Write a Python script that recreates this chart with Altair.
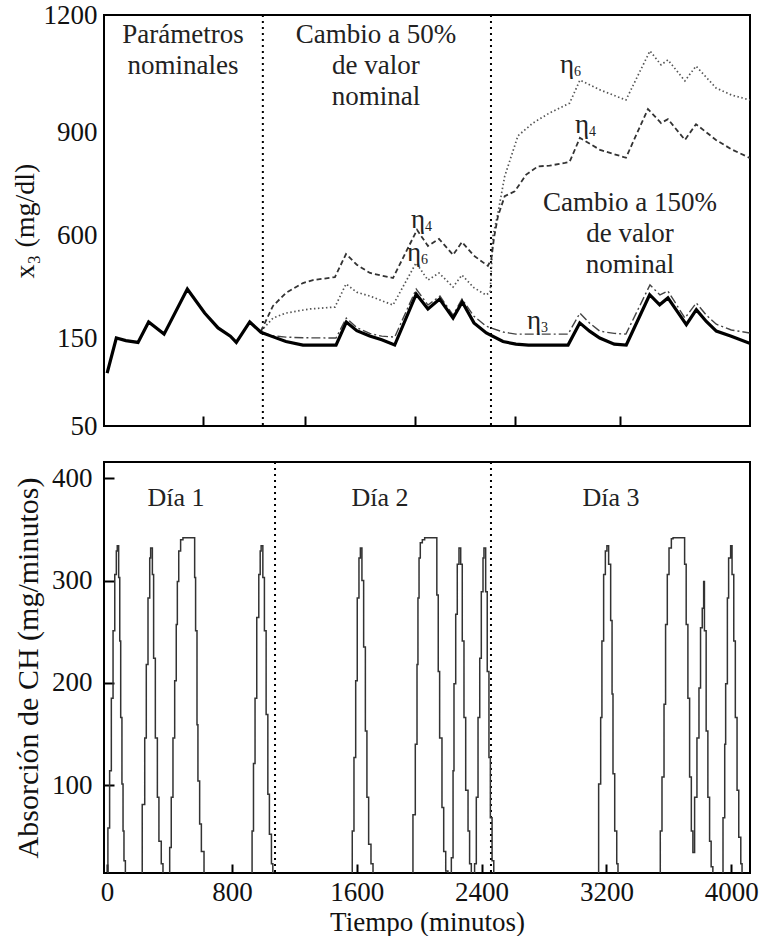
import altair as alt
import pandas as pd

SERIF = "Liberation Serif"

# ---------------- top panel: glucose x3 (mg/dl) ----------------
nom_t = [0, 59, 120, 198, 266, 365, 514, 625, 711, 790, 828, 914, 986, 1060, 1146, 1255, 1467, 1533, 1600, 1683,
         1760, 1843, 1981, 2056, 2131, 2217, 2276, 2351, 2430, 2537, 2620, 2700, 2954, 3029, 3092, 3157, 3250, 3327,
         3477, 3541, 3594, 3712, 3776, 3840, 3904, 4000, 4118]
nom_v = [110, 150, 147, 145, 220, 167, 364, 259, 194, 158, 145, 220, 175, 156, 146, 142, 142, 220, 182, 159,
         148, 142, 342, 277, 320, 237, 307, 216, 172, 146, 143, 142, 142, 216, 180, 150, 143, 142,
         339, 295, 325, 208, 274, 222, 180, 158, 144]

eta3_t = [986, 1060, 1146, 1255, 1467, 1533, 1600, 1683, 1760, 1843, 1981, 2056, 2133, 2217, 2274, 2351, 2428, 2537,
          2620, 2954, 3030, 3092, 3157, 3250, 3325, 3479, 3543, 3594, 3703, 3776, 3840, 3904, 4000, 4118]
eta3_v = [175, 160, 154, 151, 150, 237, 195, 170, 158, 154, 364, 294, 333, 250, 320, 245, 202, 176,
          167, 167, 259, 215, 180, 170, 167, 382, 338, 355, 237, 303, 250, 210, 185, 172]

eta4_t = [986, 1063, 1146, 1255, 1319, 1460, 1531, 1600, 1685, 1832, 1986, 2056, 2127, 2217, 2274, 2350, 2440, 2462,
          2480, 2505, 2548, 2612, 2686, 2761, 2836, 2934, 2964, 3030, 3159, 3325, 3466, 3550, 3594, 3703, 3774, 3902,
          4000, 4120]
eta4_v = [180, 290, 347, 390, 403, 416, 517, 470, 434, 412, 615, 552, 583, 513, 569, 510, 465, 495,
          590, 655, 713, 727, 776, 800, 802, 810, 813, 883, 848, 825, 959, 923, 933, 877, 920, 877,
          850, 824]

eta6_t = [986, 1063, 1146, 1300, 1460, 1531, 1600, 1685, 1832, 1980, 2056, 2127, 2217, 2274, 2350, 2428, 2455, 2473,
          2505, 2548, 2633, 2729, 2836, 2964, 3030, 3159, 3325, 3479, 3550, 3594, 3703, 3774, 3902, 4000, 4120]
eta6_v = [180, 237, 259, 277, 285, 386, 350, 333, 294, 478, 403, 434, 373, 425, 370, 338, 350, 596,
          665, 771, 889, 923, 949, 974, 1033, 1008, 982, 1108, 1072, 1085, 1031, 1069, 1013, 995, 982]

top_y_ticks = [50, 150, 600, 900, 1200]
top_x_ticks = [614, 1268, 1973, 2614, 3287]
top_dividers = [998, 2460]

region_text = ["Parámetros\nnominales", "Cambio a 50%\nde valor\nnominal", "Cambio a 150%\nde valor\nnominal"]
region_t = [486, 1723, 3351]
region_v = [1149, 1149, 693]

eta_sub = ["6", "4", "4", "6", "3"]
eta_t = [2947, 3043, 1992, 1967, 2736]
eta_v = [1072, 918, 644, 521, 224]

# ---------------- bottom panel: CH absorption ----------------
cho_t = [-20,
         5, 16, 27, 38, 49, 59, 65, 74, 81, 87, 95, 102, 108, 117,
         225, 241, 251, 262, 273, 279, 290, 298, 309, 322, 332, 347, 358,
         401, 411, 422, 433, 443, 450, 459, 471, 486, 561, 567, 576, 582, 593, 604, 621,
         929, 938, 948, 959, 972, 981, 987, 998, 1008, 1019, 1030, 1040, 1053, 1062,
         1571, 1582, 1593, 1603, 1614, 1623, 1633, 1644, 1655, 1665, 1676, 1691, 1704,
         1960, 1975, 1986, 1992, 1999, 2007, 2020, 2035, 2113, 2122, 2131, 2146, 2157, 2170, 2184,
         2206, 2217, 2223, 2234, 2244, 2255, 2266, 2276, 2287, 2298, 2313, 2323, 2334,
         2355, 2366, 2377, 2388, 2398, 2409, 2415, 2426, 2436, 2447, 2456, 2467, 2478,
         3150, 3163, 3171, 3182, 3193, 3203, 3214, 3227, 3236, 3242, 3253, 3266, 3274,
         3545, 3556, 3569, 3579, 3590, 3601, 3616, 3627, 3701, 3711, 3722, 3733, 3744, 3754,
         3765, 3780, 3793, 3803, 3814, 3823, 3828, 3839, 3850, 3861, 3871, 3882,
         3947, 3958, 3964, 3975, 3983, 3996, 4005, 4016, 4026, 4037, 4048, 4061, 4069]
cho_v = [0,
         58, 114, 185, 251, 306, 329, 334, 303, 241, 166, 101, 55, 26, 0,
         81, 146, 218, 283, 322, 332, 306, 224, 146, 88, 45, 23, 0,
         39, 88, 146, 202, 257, 299, 329, 340, 342, 303, 251, 159, 104, 62, 35, 0,
         55, 121, 185, 264, 306, 329, 334, 303, 251, 169, 91, 52, 23, 0,
         55, 127, 202, 283, 322, 332, 300, 235, 153, 88, 42, 23, 0,
         71, 140, 218, 283, 322, 337, 340, 342, 286, 211, 146, 78, 35, 16, 0,
         29, 114, 199, 267, 316, 332, 316, 241, 166, 95, 55, 23, 0,
         23, 88, 166, 224, 289, 322, 332, 289, 211, 127, 68, 26, 0,
         101, 166, 241, 306, 329, 334, 316, 261, 189, 111, 55, 23, 0,
         55, 108, 179, 257, 306, 332, 341, 342, 316, 257, 185, 108, 55, 34,
         88, 146, 195, 254, 273, 299, 251, 153, 88, 45, 20, 0,
         68, 140, 199, 283, 322, 334, 306, 241, 166, 95, 49, 23, 0]

bot_y_ticks = [100, 200, 300, 400]
bot_x_ticks = [0, 800, 1600, 2400, 3200, 4000]
bot_dividers = [1076, 2460]

day_text = ["Día 1", "Día 2", "Día 3"]
day_t = [441, 1749, 3229]
day_v = [381, 381, 381]

# ---------------- build ----------------
W, H = 646, 411
XDOM = [-20, 4120]


def frame(t, v):
    return pd.DataFrame({"t": t, "v": v})


top_y_scale = alt.Scale(domain=top_y_ticks, range=[411, 323, 220, 117, 0], zero=False, nice=False)
top_x = alt.X("t:Q", scale=alt.Scale(domain=XDOM, nice=False, zero=False),
              axis=alt.Axis(values=top_x_ticks, labels=False, title=None, domain=False, grid=False,
                            tickSize=10, offset=-10, tickWidth=2, tickColor="black"))
top_y = alt.Y("v:Q", scale=top_y_scale,
              axis=alt.Axis(values=top_y_ticks, format="d", title="x₃ (mg/dl)", ticks=False, domain=False,
                            grid=False, labelFontSize=27, labelPadding=7, titleFontSize=28, titlePadding=4,
                            labelOverlap=False))


def top_line(t, v, **kw):
    return alt.Chart(frame(t, v)).mark_line(clip=True, **kw).encode(x=top_x, y=top_y, order="t:Q")


l_eta6 = top_line(eta6_t, eta6_v, color="#555555", strokeWidth=1.7, strokeDash=[1.5, 2.5])
l_eta4 = top_line(eta4_t, eta4_v, color="#333333", strokeWidth=1.8, strokeDash=[5, 3])
l_eta3 = top_line(eta3_t, eta3_v, color="#444444", strokeWidth=1.4, strokeDash=[9, 3, 2, 3])
l_nom = top_line(nom_t, nom_v, color="black", strokeWidth=3.2)

top_div = alt.Chart(pd.DataFrame({"t": top_dividers})).mark_rule(
    color="black", strokeWidth=2, strokeDash=[2, 4]).encode(x=alt.X("t:Q"))

top_txt = alt.Chart(pd.DataFrame({"t": region_t, "v": region_v, "label": region_text})).mark_text(
    font=SERIF, fontSize=27, lineHeight=31, align="center", baseline="middle", lineBreak="\n",
    color="#222222").encode(x="t:Q", y="v:Q", text="label:N")

eta_df = pd.DataFrame({"t": eta_t, "v": eta_v, "sub": eta_sub})
eta_main = alt.Chart(eta_df).mark_text(font=SERIF, fontSize=27, align="center", baseline="middle",
                                       color="#222222", text="η").encode(x="t:Q", y="v:Q")
eta_subs = alt.Chart(eta_df).mark_text(font=SERIF, fontSize=14, align="left", baseline="middle",
                                       dx=7, dy=7, color="#222222").encode(x="t:Q", y="v:Q", text="sub:N")

top = alt.layer(top_div, l_eta6, l_eta4, l_eta3, l_nom, top_txt, eta_main, eta_subs).properties(
    width=W, height=H)

bot_x = alt.X("t:Q", scale=alt.Scale(domain=XDOM, nice=False, zero=False),
              axis=alt.Axis(values=bot_x_ticks, format="d", title="Tiempo (minutos)", domain=False, grid=False,
                            tickSize=9, offset=-9, tickWidth=2, tickColor="black",
                            labelFontSize=27, labelPadding=6, titleFontSize=27, titlePadding=4,
                            labelOverlap=False))
bot_y = alt.Y("v:Q", scale=alt.Scale(domain=[14, 416], nice=False, zero=False),
              axis=alt.Axis(values=bot_y_ticks, format="d", title="Absorción de CH  (mg/minutos)", domain=False,
                            grid=False, tickSize=10, offset=-10, tickWidth=2, tickColor="black",
                            labelFontSize=27, labelPadding=12, titleFontSize=30, titlePadding=8,
                            labelOverlap=False))

cho = alt.Chart(frame(cho_t, cho_v)).mark_line(
    clip=True, interpolate="step-after", color="#333333", strokeWidth=1.5).encode(
    x=bot_x, y=bot_y, order="t:Q")

bot_div = alt.Chart(pd.DataFrame({"t": bot_dividers})).mark_rule(
    color="black", strokeWidth=2, strokeDash=[2, 4]).encode(x=alt.X("t:Q"))

day_lbl = alt.Chart(pd.DataFrame({"t": day_t, "v": day_v, "label": day_text})).mark_text(
    font=SERIF, fontSize=26, align="center", baseline="middle", color="#222222").encode(
    x="t:Q", y="v:Q", text="label:N")

bottom = alt.layer(bot_div, cho, day_lbl).properties(width=W, height=H)

chart = alt.vconcat(top, bottom, spacing=20).properties(
    padding={"left": 10, "top": 0, "right": 4, "bottom": 0},
    background="white",
).configure_view(
    stroke="black", strokeWidth=2
).configure_axis(
    labelFont=SERIF, titleFont=SERIF, labelColor="#111111", titleColor="#111111",
    titleFontWeight="normal"
)

chart.save("out.html", embed_options={"renderer": "svg", "actions": False})
